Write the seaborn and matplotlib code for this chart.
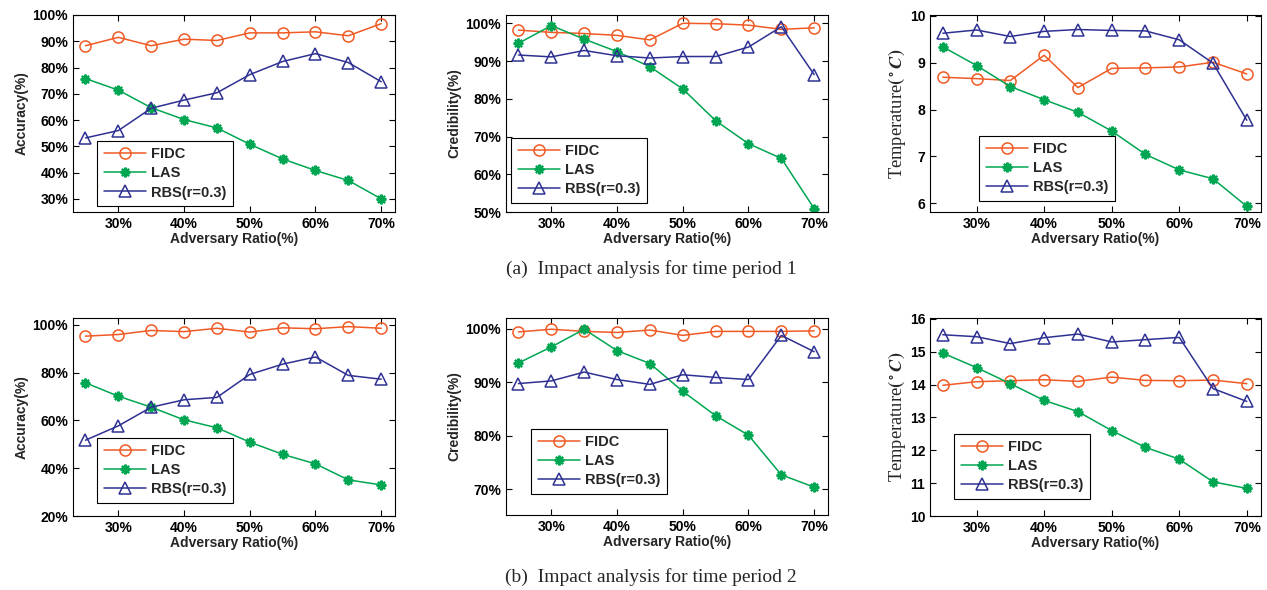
import numpy as np
import pandas as pd
import seaborn as sns
import matplotlib
matplotlib.use('Agg')
import matplotlib.pyplot as plt
from matplotlib.ticker import FuncFormatter

# adversary ratio (%)
ratio = [25, 30, 35, 40, 45, 50, 55, 60, 65, 70]
methods = ['FIDC', 'LAS', 'RBS(r=0.3)']

# time period 1
acc1_fidc = [88.3, 91.5, 88.3, 90.8, 90.3, 93.2, 93.2, 93.6, 92.1, 96.7]
acc1_las = [75.8, 71.4, 64.7, 60.2, 57.0, 50.8, 45.2, 40.8, 37.0, 30.0]
acc1_rbs = [53.2, 56.0, 64.5, 67.6, 70.4, 77.3, 82.3, 85.3, 81.9, 74.6]

cred1_fidc = [98.2, 97.6, 97.3, 96.8, 95.6, 100.0, 99.9, 99.5, 98.4, 98.8]
cred1_las = [94.7, 99.4, 95.8, 92.5, 88.5, 82.6, 74.2, 68.1, 64.2, 50.9]
cred1_rbs = [91.6, 91.1, 92.8, 91.4, 90.8, 91.2, 91.2, 93.7, 99.1, 86.4]

temp1_fidc = [8.69, 8.66, 8.62, 9.16, 8.47, 8.88, 8.89, 8.91, 9.01, 8.76]
temp1_las = [9.34, 8.94, 8.49, 8.21, 7.94, 7.54, 7.04, 6.71, 6.52, 5.93]
temp1_rbs = [9.63, 9.70, 9.56, 9.67, 9.71, 9.69, 9.68, 9.49, 8.99, 7.77]

# time period 2
acc2_fidc = [95.2, 95.9, 97.6, 97.1, 98.5, 96.9, 98.7, 98.3, 99.2, 98.5]
acc2_las = [75.7, 70.1, 65.5, 60.2, 56.9, 50.9, 45.8, 41.8, 35.1, 33.0]
acc2_rbs = [51.7, 57.7, 65.5, 68.6, 69.6, 79.2, 83.5, 86.5, 78.8, 77.2]

cred2_fidc = [99.4, 99.9, 99.5, 99.3, 99.75, 98.75, 99.5, 99.5, 99.5, 99.6]
cred2_las = [93.6, 96.6, 99.9, 95.9, 93.5, 88.3, 83.75, 80.1, 72.7, 70.4]
cred2_rbs = [89.75, 90.25, 91.9, 90.5, 89.6, 91.4, 90.9, 90.5, 98.75, 95.7]

temp2_fidc = [13.98, 14.09, 14.12, 14.15, 14.10, 14.23, 14.13, 14.12, 14.14, 14.03]
temp2_las = [14.96, 14.52, 14.03, 13.52, 13.18, 12.60, 12.09, 11.73, 11.04, 10.84]
temp2_rbs = [15.52, 15.46, 15.25, 15.43, 15.54, 15.30, 15.37, 15.44, 13.88, 13.49]

sns.set_style('ticks')
plt.rcParams['font.family'] = ['Liberation Sans', 'DejaVu Sans']
plt.rcParams['font.weight'] = 'bold'
plt.rcParams['mathtext.fontset'] = 'stix'

colors = {'FIDC': '#F15A24', 'LAS': '#00A651', 'RBS(r=0.3)': '#2E3192'}
marks = {'FIDC': 'o', 'LAS': (8, 2, 0), 'RBS(r=0.3)': '^'}
msize = {'FIDC': 8, 'LAS': 7, 'RBS(r=0.3)': 9}
mwidth = {'FIDC': 1.1, 'LAS': 1.6, 'RBS(r=0.3)': 1.1}

fig = plt.figure(figsize=(12.67, 5.9), dpi=100)
W, H = 1267.0, 590.0

def make_ax(l, r, t, b):
    return fig.add_axes([l / W, 1 - b / H, (r - l) / W, (b - t) / H])

pct = FuncFormatter(lambda v, p: '%d%%' % round(v))

panels = [
    # (axes box, data, ylim, yticks, ylabel, percent, legend anchor)
    ((73, 395, 15, 212), [acc1_fidc, acc1_las, acc1_rbs], (25, 100), range(30, 101, 10), 'Accuracy(%)', True, (0.075, 0.03)),
    ((506, 828, 15, 212), [cred1_fidc, cred1_las, cred1_rbs], (50, 102.2), range(50, 101, 10), 'Credibility(%)', True, (0.016, 0.046)),
    ((930, 1261, 15, 212), [temp1_fidc, temp1_las, temp1_rbs], (5.81, 10.02), range(6, 11), 'temp', False, (0.148, 0.056)),
    ((73, 395, 318, 516), [acc2_fidc, acc2_las, acc2_rbs], (20, 102.8), range(20, 101, 20), 'Accuracy(%)', True, (0.075, 0.066)),
    ((506, 828, 318, 515), [cred2_fidc, cred2_las, cred2_rbs], (65.2, 102), range(70, 101, 10), 'Credibility(%)', True, (0.078, 0.107)),
    ((930, 1261, 318, 516), [temp2_fidc, temp2_las, temp2_rbs], (10, 16.03), range(10, 17), 'temp', False, (0.073, 0.086)),
]

for box, series, ylim, yticks, ylabel, is_pct, anchor in panels:
    ax = make_ax(*box)
    for name, vals in zip(methods, series):
        c = colors[name]
        sns.lineplot(x=ratio, y=vals, ax=ax, color=c, marker=marks[name],
                     markersize=msize[name], mfc='none', mec=c, mew=mwidth[name],
                     linewidth=1.1, label=name)
    ax.set_xlim(23.1, 72.1)
    ax.set_ylim(*ylim)
    ax.set_xticks(range(30, 71, 10))
    ax.xaxis.set_major_formatter(pct)
    ax.set_yticks(list(yticks))
    if is_pct:
        ax.yaxis.set_major_formatter(pct)
    ax.tick_params(direction='in', top=True, right=True, length=4, width=0.8,
                   labelsize=10, colors='black')
    for lab in ax.get_xticklabels() + ax.get_yticklabels():
        lab.set_fontweight('bold')
    for sp in ax.spines.values():
        sp.set_linewidth(0.8)
        sp.set_color('black')
    ax.set_xlabel('Adversary Ratio(%)', fontsize=10, fontweight='bold', labelpad=1)
    if ylabel == 'temp':
        ax.set_ylabel(r'Temperature$(^\circ C)$', fontsize=13.3, fontweight='normal',
                      family=['Liberation Serif', 'DejaVu Serif'], labelpad=1)
    else:
        ax.set_ylabel(ylabel, fontsize=10, fontweight='bold', labelpad=3)
    leg = ax.legend(loc='lower left', bbox_to_anchor=anchor, borderaxespad=0,
                    fancybox=False, edgecolor='black', framealpha=1,
                    handlelength=2.9, labelspacing=0.35, borderpad=0.45,
                    handletextpad=0.35, prop={'weight': 'bold', 'size': 10.5})
    leg.get_frame().set_linewidth(0.8)

fig.text(651 / W, 1 - 269 / H, '(a)  Impact analysis for time period 1', ha='center', va='center',
         fontsize=14, family=['Liberation Serif', 'DejaVu Serif'], fontweight='normal')
fig.text(651 / W, 1 - 577 / H, '(b)  Impact analysis for time period 2', ha='center', va='center',
         fontsize=14, family=['Liberation Serif', 'DejaVu Serif'], fontweight='normal')

fig.savefig('out.png', dpi=100, facecolor='white')
